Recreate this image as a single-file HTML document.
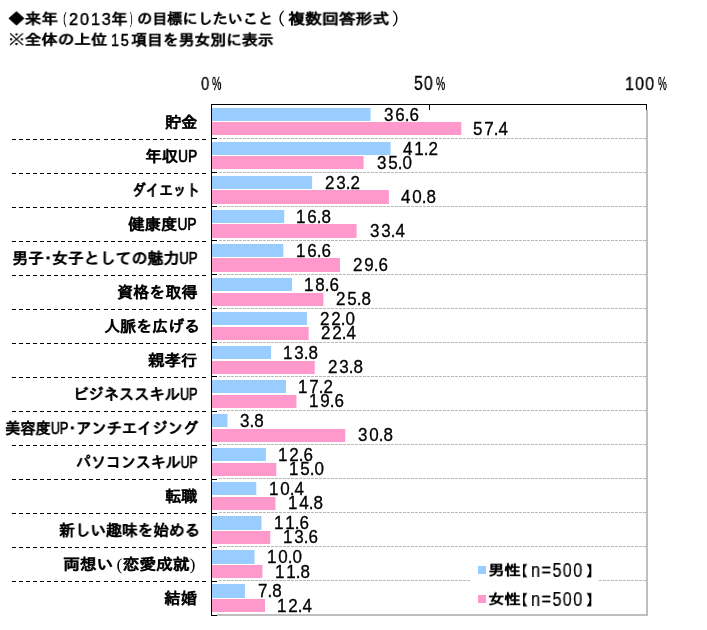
<!DOCTYPE html>
<html><head><meta charset="utf-8"><style>
html,body{margin:0;padding:0;background:#fff;}
body{width:707px;height:630px;position:relative;overflow:hidden;}
svg{position:absolute;left:0;top:0;}

.tb,.tr,.tp,.lb,.vl,.ax,.pc,.lg,.ln{position:absolute;white-space:nowrap;line-height:24px;color:#000;transform-origin:0 0;will-change:transform;}
.tb{text-shadow:0.5px 0 0 rgba(0,0,0,0.6);font-family:"Liberation Sans","IPAGothic",sans-serif;font-weight:bold;font-size:17px;}
.tr{font-family:"Liberation Sans",sans-serif;font-size:17px;letter-spacing:2px;-webkit-text-stroke:0.5px #000}
.tp{font-family:"Liberation Sans","IPAGothic",sans-serif;font-size:17px;}
.lb{text-shadow:0.5px 0 0 rgba(0,0,0,0.6);font-family:"Liberation Sans","IPAGothic",sans-serif;font-weight:bold;font-size:16px;}
.vl{font-family:"Liberation Sans",sans-serif;font-size:17px;-webkit-text-stroke:0.3px #000}
.vl i{font-style:normal;letter-spacing:1.85px}
.ax{font-family:"Liberation Sans",sans-serif;font-size:18px;letter-spacing:1.2px;-webkit-text-stroke:0.35px #000}
.pc{font-family:"Liberation Sans",sans-serif;font-size:18px;-webkit-text-stroke:0.4px #000}
.lg{text-shadow:0.5px 0 0 rgba(0,0,0,0.6);font-family:"Liberation Sans","IPAGothic",sans-serif;font-weight:bold;font-size:16px;}
.u{display:inline-block;font-family:"Liberation Sans",sans-serif;font-weight:normal;font-size:17px;transform:scaleX(0.78);transform-origin:0 0;margin-right:-5.2px;-webkit-text-stroke:0.5px #000}
.d{margin:0 -4px}
.p{font-family:"Liberation Serif",serif;font-weight:normal;font-size:17px;text-shadow:none}
.ln{font-family:"Liberation Sans",sans-serif;font-size:17px;letter-spacing:1.5px;-webkit-text-stroke:0.2px #000}


</style></head><body>
<svg width="707" height="630" viewBox="0 0 707 630" shape-rendering="crispEdges">
<rect x="212" y="108" width="158.55" height="13" fill="#99CCFF" shape-rendering="geometricPrecision"/>
<rect x="212" y="122" width="249.27" height="13" fill="#FF99CC" shape-rendering="geometricPrecision"/>
<rect x="212" y="142" width="178.61" height="13" fill="#99CCFF" shape-rendering="geometricPrecision"/>
<rect x="212" y="156" width="151.57" height="13" fill="#FF99CC" shape-rendering="geometricPrecision"/>
<rect x="212" y="176" width="100.11" height="13" fill="#99CCFF" shape-rendering="geometricPrecision"/>
<rect x="212" y="190" width="176.87" height="14" fill="#FF99CC" shape-rendering="geometricPrecision"/>
<rect x="212" y="210" width="72.19" height="13" fill="#99CCFF" shape-rendering="geometricPrecision"/>
<rect x="212" y="224" width="144.59" height="14" fill="#FF99CC" shape-rendering="geometricPrecision"/>
<rect x="212" y="244" width="71.32" height="13" fill="#99CCFF" shape-rendering="geometricPrecision"/>
<rect x="212" y="258" width="128.02" height="14" fill="#FF99CC" shape-rendering="geometricPrecision"/>
<rect x="212" y="278" width="80.04" height="13" fill="#99CCFF" shape-rendering="geometricPrecision"/>
<rect x="212" y="293" width="111.45" height="13" fill="#FF99CC" shape-rendering="geometricPrecision"/>
<rect x="212" y="312" width="94.87" height="13" fill="#99CCFF" shape-rendering="geometricPrecision"/>
<rect x="212" y="327" width="96.62" height="13" fill="#FF99CC" shape-rendering="geometricPrecision"/>
<rect x="212" y="346" width="59.11" height="13" fill="#99CCFF" shape-rendering="geometricPrecision"/>
<rect x="212" y="361" width="102.72" height="13" fill="#FF99CC" shape-rendering="geometricPrecision"/>
<rect x="212" y="380" width="73.94" height="13" fill="#99CCFF" shape-rendering="geometricPrecision"/>
<rect x="212" y="395" width="84.41" height="13" fill="#FF99CC" shape-rendering="geometricPrecision"/>
<rect x="212" y="414" width="15.49" height="13" fill="#99CCFF" shape-rendering="geometricPrecision"/>
<rect x="212" y="429" width="133.25" height="13" fill="#FF99CC" shape-rendering="geometricPrecision"/>
<rect x="212" y="448" width="53.87" height="13" fill="#99CCFF" shape-rendering="geometricPrecision"/>
<rect x="212" y="463" width="64.34" height="13" fill="#FF99CC" shape-rendering="geometricPrecision"/>
<rect x="212" y="482" width="44.28" height="13" fill="#99CCFF" shape-rendering="geometricPrecision"/>
<rect x="212" y="497" width="63.47" height="13" fill="#FF99CC" shape-rendering="geometricPrecision"/>
<rect x="212" y="516" width="49.51" height="14" fill="#99CCFF" shape-rendering="geometricPrecision"/>
<rect x="212" y="531" width="58.24" height="13" fill="#FF99CC" shape-rendering="geometricPrecision"/>
<rect x="212" y="550" width="42.53" height="14" fill="#99CCFF" shape-rendering="geometricPrecision"/>
<rect x="212" y="565" width="50.39" height="13" fill="#FF99CC" shape-rendering="geometricPrecision"/>
<rect x="212" y="584" width="32.94" height="14" fill="#99CCFF" shape-rendering="geometricPrecision"/>
<rect x="212" y="599" width="53.00" height="13" fill="#FF99CC" shape-rendering="geometricPrecision"/>
<line x1="219" y1="138.5" x2="646" y2="138.5" stroke="#B8B8B8" stroke-width="1" stroke-dasharray="3 1"/>
<line x1="211" y1="138.5" x2="217" y2="138.5" stroke="#000" stroke-width="1"/>
<line x1="12" y1="139.5" x2="206" y2="139.5" stroke="#000" stroke-width="1" stroke-dasharray="4 3.04"/>
<line x1="219" y1="172.5" x2="646" y2="172.5" stroke="#B8B8B8" stroke-width="1" stroke-dasharray="3 1"/>
<line x1="211" y1="172.5" x2="217" y2="172.5" stroke="#000" stroke-width="1"/>
<line x1="12" y1="173.5" x2="206" y2="173.5" stroke="#000" stroke-width="1" stroke-dasharray="4 3.04"/>
<line x1="219" y1="206.5" x2="646" y2="206.5" stroke="#B8B8B8" stroke-width="1" stroke-dasharray="3 1"/>
<line x1="211" y1="206.5" x2="217" y2="206.5" stroke="#000" stroke-width="1"/>
<line x1="12" y1="207.5" x2="206" y2="207.5" stroke="#000" stroke-width="1" stroke-dasharray="4 3.04"/>
<line x1="219" y1="240.5" x2="646" y2="240.5" stroke="#B8B8B8" stroke-width="1" stroke-dasharray="3 1"/>
<line x1="211" y1="240.5" x2="217" y2="240.5" stroke="#000" stroke-width="1"/>
<line x1="12" y1="241.5" x2="206" y2="241.5" stroke="#000" stroke-width="1" stroke-dasharray="4 3.04"/>
<line x1="219" y1="274.5" x2="646" y2="274.5" stroke="#B8B8B8" stroke-width="1" stroke-dasharray="3 1"/>
<line x1="211" y1="274.5" x2="217" y2="274.5" stroke="#000" stroke-width="1"/>
<line x1="12" y1="275.5" x2="206" y2="275.5" stroke="#000" stroke-width="1" stroke-dasharray="4 3.04"/>
<line x1="219" y1="308.5" x2="646" y2="308.5" stroke="#B8B8B8" stroke-width="1" stroke-dasharray="3 1"/>
<line x1="211" y1="308.5" x2="217" y2="308.5" stroke="#000" stroke-width="1"/>
<line x1="12" y1="309.5" x2="206" y2="309.5" stroke="#000" stroke-width="1" stroke-dasharray="4 3.04"/>
<line x1="219" y1="342.5" x2="646" y2="342.5" stroke="#B8B8B8" stroke-width="1" stroke-dasharray="3 1"/>
<line x1="211" y1="342.5" x2="217" y2="342.5" stroke="#000" stroke-width="1"/>
<line x1="12" y1="343.5" x2="206" y2="343.5" stroke="#000" stroke-width="1" stroke-dasharray="4 3.04"/>
<line x1="219" y1="376.5" x2="646" y2="376.5" stroke="#B8B8B8" stroke-width="1" stroke-dasharray="3 1"/>
<line x1="211" y1="376.5" x2="217" y2="376.5" stroke="#000" stroke-width="1"/>
<line x1="12" y1="377.5" x2="206" y2="377.5" stroke="#000" stroke-width="1" stroke-dasharray="4 3.04"/>
<line x1="219" y1="410.5" x2="646" y2="410.5" stroke="#B8B8B8" stroke-width="1" stroke-dasharray="3 1"/>
<line x1="211" y1="411.5" x2="217" y2="411.5" stroke="#000" stroke-width="1"/>
<line x1="12" y1="411.5" x2="206" y2="411.5" stroke="#000" stroke-width="1" stroke-dasharray="4 3.04"/>
<line x1="219" y1="444.5" x2="646" y2="444.5" stroke="#B8B8B8" stroke-width="1" stroke-dasharray="3 1"/>
<line x1="211" y1="445.5" x2="217" y2="445.5" stroke="#000" stroke-width="1"/>
<line x1="12" y1="445.5" x2="206" y2="445.5" stroke="#000" stroke-width="1" stroke-dasharray="4 3.04"/>
<line x1="219" y1="478.5" x2="646" y2="478.5" stroke="#B8B8B8" stroke-width="1" stroke-dasharray="3 1"/>
<line x1="211" y1="479.5" x2="217" y2="479.5" stroke="#000" stroke-width="1"/>
<line x1="12" y1="479.5" x2="206" y2="479.5" stroke="#000" stroke-width="1" stroke-dasharray="4 3.04"/>
<line x1="219" y1="512.5" x2="646" y2="512.5" stroke="#B8B8B8" stroke-width="1" stroke-dasharray="3 1"/>
<line x1="211" y1="513.5" x2="217" y2="513.5" stroke="#000" stroke-width="1"/>
<line x1="12" y1="513.5" x2="206" y2="513.5" stroke="#000" stroke-width="1" stroke-dasharray="4 3.04"/>
<line x1="219" y1="546.5" x2="646" y2="546.5" stroke="#B8B8B8" stroke-width="1" stroke-dasharray="3 1"/>
<line x1="211" y1="547.5" x2="217" y2="547.5" stroke="#000" stroke-width="1"/>
<line x1="12" y1="547.5" x2="206" y2="547.5" stroke="#000" stroke-width="1" stroke-dasharray="4 3.04"/>
<line x1="219" y1="580.5" x2="646" y2="580.5" stroke="#B8B8B8" stroke-width="1" stroke-dasharray="3 1"/>
<line x1="211" y1="581.5" x2="217" y2="581.5" stroke="#000" stroke-width="1"/>
<line x1="12" y1="581.5" x2="206" y2="581.5" stroke="#000" stroke-width="1" stroke-dasharray="4 3.04"/>
<rect x="217" y="614" width="431" height="2" fill="#BEBEBE"/>
<rect x="646" y="110" width="2" height="506" fill="#BEBEBE"/>
<line x1="211" y1="104.5" x2="647" y2="104.5" stroke="#000" stroke-width="1"/>
<line x1="211.5" y1="104" x2="211.5" y2="616" stroke="#000" stroke-width="1"/>
<line x1="211" y1="615.5" x2="217" y2="615.5" stroke="#000" stroke-width="1"/>
<line x1="429.5" y1="104" x2="429.5" y2="110" stroke="#000" stroke-width="1"/>
<line x1="646.5" y1="104" x2="646.5" y2="110" stroke="#000" stroke-width="1"/>
<rect x="470" y="556" width="129" height="55" fill="#fff"/>
<rect x="478" y="566" width="8" height="8" fill="#99CCFF"/>
<rect x="478" y="595" width="8" height="8" fill="#FF99CC"/>
</svg>
<div class="tb" style="left:7.82px;top:9.12px;transform:scale(0.9760,0.8912);">◆来年</div>
<div class="tp" style="left:62.67px;top:6.73px;transform:scale(0.6250,1.0133);">(</div>
<div class="tr" style="left:69.00px;top:8.39px;transform:scale(0.9561,1.0183);">2013</div>
<div class="tb" style="left:111.34px;top:8.65px;transform:scale(0.9562,0.9156);">年</div>
<div class="tp" style="left:130.10px;top:6.73px;transform:scale(0.4600,1.0133);">)</div>
<div class="tb" style="left:136.81px;top:9.42px;transform:scale(0.8887,0.8882);">の目標にしたいこと</div>
<div class="tp" style="left:266.85px;top:8.27px;transform:scale(1.1115,1.0063);">（</div>
<div class="tb" style="left:287.84px;top:9.10px;transform:scale(0.9918,0.8971);">複数回答形式</div>
<div class="tp" style="left:390.93px;top:7.72px;transform:scale(1.1161,1.0111);">）</div>
<div class="tb" style="left:8.15px;top:30.46px;transform:scale(0.9730,0.8706);"><span style="font-weight:normal">※</span>全体の上位</div>
<div class="tr" style="left:110.75px;top:29.40px;transform:scale(0.8500,1.0000);">15</div>
<div class="tb" style="left:131.40px;top:30.10px;transform:scale(0.9304,0.9080);">項目を男女別に表示</div>
<div class="ax" style="left:200.90px;top:71.68px;transform:scale(0.8200,1.0231);">0</div>
<div class="pc" style="left:211.70px;top:71.68px;transform:scale(0.5813,1.0231);">%</div>
<div class="ax" style="left:413.96px;top:70.78px;transform:scale(0.8803,1.0777);">50</div>
<div class="pc" style="left:435.76px;top:70.72px;transform:scale(0.5719,1.0645);">%</div>
<div class="ax" style="left:625.21px;top:71.24px;transform:scale(0.8952,1.0514);">100</div>
<div class="pc" style="left:657.50px;top:71.24px;transform:scale(0.5470,1.0514);">%</div>
<div class="lb" style="left:165.00px;top:110.80px;transform:scale(1.0062,1.0000);">貯金</div>
<div class="lb" style="left:144.78px;top:144.80px;transform:scale(1.0343,1.0000);">年収<span class="u">UP</span></div>
<div class="lb" style="left:132.11px;top:178.80px;transform:scale(0.8491,1.0000);">ダイエット</div>
<div class="lb" style="left:128.00px;top:212.80px;transform:scale(1.0288,1.0000);">健康度<span class="u">UP</span></div>
<div class="lb" style="left:11.50px;top:246.80px;transform:scale(0.9951,1.0000);">男子<span class="d">・</span>女子としての魅力<span class="u">UP</span></div>
<div class="lb" style="left:117.20px;top:280.80px;transform:scale(1.0038,1.0000);">資格を取得</div>
<div class="lb" style="left:103.50px;top:314.80px;">人脈を広げる</div>
<div class="lb" style="left:147.90px;top:348.80px;transform:scale(1.0229,1.0000);">親孝行</div>
<div class="lb" style="left:72.84px;top:382.80px;transform:scale(0.9543,1.0000);">ビジネススキル<span class="u">UP</span></div>
<div class="lb" style="left:4.95px;top:416.80px;transform:scale(0.9530,1.0000);">美容度<span class="u">UP</span><span class="d">・</span>アンチエイジング</div>
<div class="lb" style="left:75.67px;top:450.80px;transform:scale(0.9326,1.0000);">パソコンスキル<span class="u">UP</span></div>
<div class="lb" style="left:164.80px;top:484.80px;transform:scale(1.0062,1.0000);">転職</div>
<div class="lb" style="left:58.62px;top:518.80px;transform:scale(0.9806,1.0000);">新しい趣味を始める</div>
<div class="lb" style="left:62.90px;top:552.80px;transform:scale(1.0481,1.0000);">両想い<span class="p" style="margin-left:3px">(</span>恋愛成就<span class="p">)</span></div>
<div class="lb" style="left:164.20px;top:586.80px;transform:scale(1.0250,1.0000);">結婚</div>
<div class="vl" style="left:383.55px;top:102.59px;transform:scale(1.0000,1.0417);"><i>3</i>6.6</div>
<div class="vl" style="left:473.27px;top:116.77px;transform:scale(1.0000,1.0667);"><i>5</i>7.4</div>
<div class="vl" style="left:402.91px;top:136.63px;transform:scale(1.0000,1.0417);"><i>4</i>1.2</div>
<div class="vl" style="left:376.57px;top:150.81px;transform:scale(1.0000,1.0667);"><i>3</i>5.0</div>
<div class="vl" style="left:324.91px;top:170.67px;transform:scale(1.0000,1.0417);"><i>2</i>3.2</div>
<div class="vl" style="left:401.17px;top:184.85px;transform:scale(1.0000,1.0667);"><i>4</i>0.8</div>
<div class="vl" style="left:296.49px;top:204.71px;transform:scale(1.0000,1.0417);"><i>1</i>6.8</div>
<div class="vl" style="left:369.59px;top:218.89px;transform:scale(1.0000,1.0667);"><i>3</i>3.4</div>
<div class="vl" style="left:295.62px;top:238.75px;transform:scale(1.0000,1.0417);"><i>1</i>6.6</div>
<div class="vl" style="left:352.82px;top:252.93px;transform:scale(1.0000,1.0667);"><i>2</i>9.6</div>
<div class="vl" style="left:304.34px;top:272.79px;transform:scale(1.0000,1.0417);"><i>1</i>8.6</div>
<div class="vl" style="left:336.25px;top:286.97px;transform:scale(1.0000,1.0667);"><i>2</i>5.8</div>
<div class="vl" style="left:319.67px;top:306.83px;transform:scale(1.0000,1.0417);"><i>2</i>2.0</div>
<div class="vl" style="left:321.42px;top:321.01px;transform:scale(1.0000,1.0667);"><i>2</i>2.4</div>
<div class="vl" style="left:283.41px;top:340.87px;transform:scale(1.0000,1.0417);"><i>1</i>3.8</div>
<div class="vl" style="left:327.52px;top:355.05px;transform:scale(1.0000,1.0667);"><i>2</i>3.8</div>
<div class="vl" style="left:298.24px;top:374.91px;transform:scale(1.0000,1.0417);"><i>1</i>7.2</div>
<div class="vl" style="left:308.71px;top:389.09px;transform:scale(1.0000,1.0667);"><i>1</i>9.6</div>
<div class="vl" style="left:240.49px;top:408.95px;transform:scale(1.0000,1.0417);">3.8</div>
<div class="vl" style="left:358.25px;top:423.13px;transform:scale(1.0000,1.0667);"><i>3</i>0.8</div>
<div class="vl" style="left:278.17px;top:442.99px;transform:scale(1.0000,1.0417);"><i>1</i>2.6</div>
<div class="vl" style="left:288.64px;top:457.17px;transform:scale(1.0000,1.0667);"><i>1</i>5.0</div>
<div class="vl" style="left:268.58px;top:477.03px;transform:scale(1.0000,1.0417);"><i>1</i>0.4</div>
<div class="vl" style="left:287.77px;top:491.21px;transform:scale(1.0000,1.0667);"><i>1</i>4.8</div>
<div class="vl" style="left:273.81px;top:511.07px;transform:scale(1.0000,1.0417);"><i>1</i>1.6</div>
<div class="vl" style="left:282.54px;top:525.25px;transform:scale(1.0000,1.0667);"><i>1</i>3.6</div>
<div class="vl" style="left:266.83px;top:545.11px;transform:scale(1.0000,1.0417);"><i>1</i>0.0</div>
<div class="vl" style="left:274.53px;top:559.93px;transform:scale(1.0000,1.0667);"><i>1</i>1.8</div>
<div class="vl" style="left:258.34px;top:579.15px;transform:scale(1.0000,1.0417);">7.8</div>
<div class="vl" style="left:277.16px;top:593.57px;transform:scale(1.0000,1.0667);"><i>1</i>2.4</div>
<div class="lg" style="left:487.98px;top:560.00px;transform:scale(1.0161,0.9000);">男性</div>
<div class="lg" style="left:512.90px;top:560.88px;transform:scale(0.9000,0.8750);">【</div>
<div class="ln" style="left:530.86px;top:557.29px;transform:scale(0.9542,1.1804);">n=500</div>
<div class="lg" style="left:585.70px;top:560.88px;transform:scale(1.0000,0.8750);">】</div>
<div class="lg" style="left:487.98px;top:589.00px;transform:scale(1.0161,0.9000);">女性</div>
<div class="lg" style="left:512.90px;top:589.88px;transform:scale(0.9000,0.8750);">【</div>
<div class="ln" style="left:530.86px;top:586.29px;transform:scale(0.9542,1.1804);">n=500</div>
<div class="lg" style="left:585.70px;top:589.88px;transform:scale(1.0000,0.8750);">】</div>
</body></html>
